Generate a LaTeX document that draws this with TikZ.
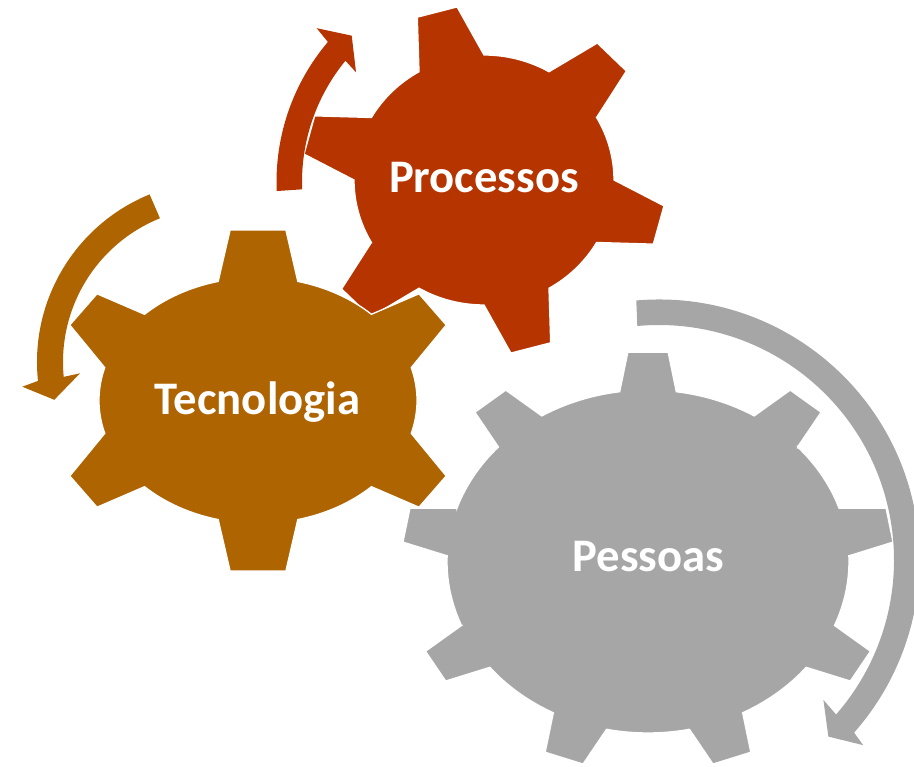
\documentclass[tikz,border=0pt]{standalone}
\usepackage{fontspec}
\setmainfont{Carlito}
\definecolor{procc}{RGB}{181,52,0}
\definecolor{tecc}{RGB}{174,100,0}
\definecolor{pesc}{RGB}{166,166,166}
\tikzset{
  gearshape/.style={draw=white, line width=1pt, line join=miter},
  arrowshape/.style={draw=none},
  gearlabel/.style={text=white, font=\bfseries\fontsize{35}{42}\selectfont, anchor=base, inner sep=0pt},
}
\begin{document}
\begin{tikzpicture}[x=0.75pt, y=0.75pt]
\useasboundingbox (0,0) rectangle (914,767);

% Pessoas gear (bottom layer)
\begin{scope}[shift={(648,205.5)}, xscale=1.172]
\path[fill=pesc, gearshape] (-158.1:171.5)
  \foreach \k [evaluate=\k as \a using -150+\k*40] in {0,...,8} {
    -- (\a-8.1:171.5) -- (\a-4.7:210) -- (\a+4.7:210) -- (\a+8.1:171.5)
    arc[start angle=\a+8.1, end angle=\a+31.9, radius=171.5]
  } -- cycle;
\end{scope}

% Processos gear
\begin{scope}[shift={(484,587)}, xscale=1.04]
\path[fill=procc, gearshape] (-150:125)
  \foreach \k [evaluate=\k as \a using -135+\k*60] in {0,...,5} {
    -- (\a-15:125) -- (\a-6.5:175) -- (\a+6.5:175) -- (\a+15:125)
    arc[start angle=\a+15, end angle=\a+45, radius=125]
  } -- cycle;
\end{scope}

% Tecnologia gear (top layer)
\begin{scope}[shift={(258,366.5)}, xscale=1.293]
\path[fill=tecc, gearshape] (15.5:123)
  \foreach \a/\t/\r/\h in {30/34/164/6.6, 90/90/172/7.2, 150/146/164/6.6,
                            210/214/164/6.6, 270/270/172/7.2, 330/326/164/6.6} {
    -- (\a-14.5:123) -- (\t-\h:\r) -- (\t+\h:\r) -- (\a+14.5:123)
    arc[start angle=\a+14.5, end angle=\a+45.5, radius=123]
  } -- cycle;
\end{scope}

% Curved arrows
\begin{scope}[shift={(493,585)}]
\path[fill=procc, arrowshape] (182.4:216.5)
  arc[start angle=182.4, end angle=139.7, radius=216.5]
  -- (138.9:234) -- (134:203.4) -- (141.3:175.5) -- (140.6:191)
  arc[start angle=140.6, end angle=182.2, radius=191] -- cycle;
\end{scope}

\begin{scope}[shift={(218,405)}]
\path[fill=tecc, arrowshape] (112.2:181)
  arc[start angle=112.2, end angle=186, radius=181]
  -- (187.2:197.3) -- (193:168) -- (184.7:138.5) -- (185.5:155)
  arc[start angle=185.5, end angle=112, radius=155] -- cycle;
\end{scope}

\begin{scope}[shift={(659,207)}]
\path[fill=pesc, arrowshape] (95:260.5)
  arc[start angle=95, end angle=-41.5, radius=260.5]
  -- (-42.2:275.6) -- (-46.2:244.7) -- (-40.4:215.9) -- (-41.1:235)
  arc[start angle=-41.1, end angle=95.3, radius=235] -- cycle;
\end{scope}

% Labels
\node[gearlabel] (proc) at (484,574) {Processos};
\node[gearlabel] (tec) at (257.5,352) {Tecnologia};
\node[gearlabel] (pes) at (648.5,195) {Pessoas};
\end{tikzpicture}
\end{document}
